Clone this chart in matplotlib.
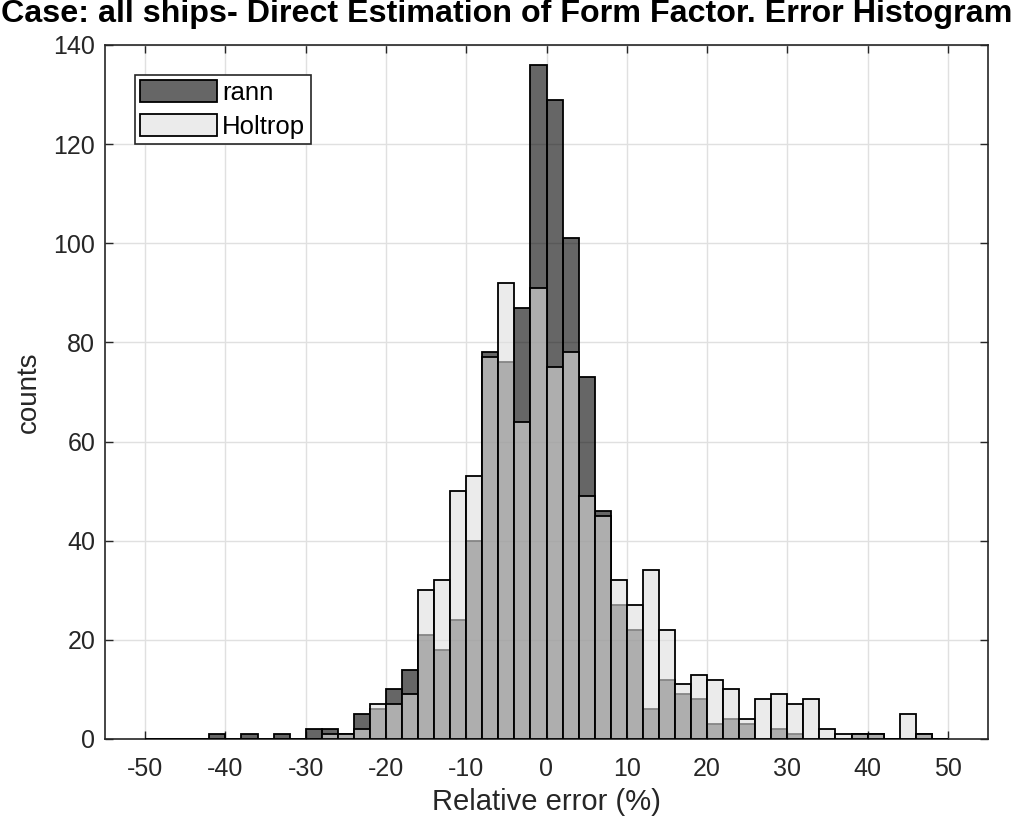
import numpy as np
import matplotlib
matplotlib.use("Agg")
import matplotlib.pyplot as plt

plt.rcParams['font.family'] = ['Liberation Sans', 'DejaVu Sans']
plt.rcParams['axes.unicode_minus'] = False

bin_edges = np.arange(-50, 52, 2)
rann = [0, 0, 0, 0, 1, 0, 1, 0, 1, 0,
        2, 2, 1, 5, 6, 10, 14, 21, 18, 24,
        40, 78, 76, 87, 136, 129, 101, 73, 46, 27,
        22, 6, 12, 9, 8, 3, 4, 3, 0, 2,
        1, 0, 0, 0, 1, 1, 0, 0, 1, 0]
holtrop = [0, 0, 0, 0, 0, 0, 0, 0, 0, 0,
           0, 1, 1, 2, 7, 7, 9, 30, 32, 50,
           53, 77, 92, 64, 91, 75, 78, 49, 45, 32,
           27, 34, 22, 11, 13, 12, 10, 4, 8, 9,
           7, 8, 2, 1, 1, 1, 0, 5, 1, 0]
labels = ['rann', 'Holtrop']
title = 'Case: all ships- Direct Estimation of Form Factor. Error Histogram'
xlabel = 'Relative error (%)'
ylabel = 'counts'
xticks = [-50, -40, -30, -20, -10, 0, 10, 20, 30, 40, 50]
yticks = [0, 20, 40, 60, 80, 100, 120, 140]

W, H = 1016, 824
fig = plt.figure(figsize=(W / 100, H / 100), dpi=100)
ax = fig.add_axes([105 / W, 1 - 739 / H, (988 - 105) / W, (739 - 45) / H])

lefts = bin_edges[:-1]
widths = np.diff(bin_edges)
ax.bar(lefts, rann, width=widths, align='edge', facecolor=(0, 0, 0, 0.6),
       edgecolor='black', linewidth=1.3, label=labels[0], zorder=2)
ax.bar(lefts, holtrop, width=widths, align='edge', facecolor=(0.875, 0.875, 0.875, 0.6),
       edgecolor='black', linewidth=1.3, label=labels[1], zorder=3)

ax.set_xlim(-55, 55)
ax.set_ylim(0, 140)
ax.set_xticks(xticks)
ax.set_yticks(yticks)
ax.grid(True, color='#e0e0e0', linewidth=1.0, zorder=0)
ax.set_axisbelow(True)
ax.tick_params(direction='in', top=True, right=True, length=6, width=1,
               labelsize=18, colors='#262626')
ax.tick_params(axis='x', pad=13)
ax.tick_params(axis='y', pad=7)
for s in ax.spines.values():
    s.set_color('#262626')
    s.set_linewidth(1.2)

ax.set_xlabel(xlabel, fontsize=21, color='#262626', labelpad=5)
ax.set_ylabel(ylabel, fontsize=20, color='#262626', labelpad=8)
fig.text(507 / W, 1 - 14 / H, title, ha='center', va='center',
         fontsize=23.2, fontweight='bold', color='black')

leg = ax.legend(loc='upper left', bbox_to_anchor=(30 / 883, 1 - 30 / 694),
                fontsize=18.5, handlelength=3.0, handleheight=0.95,
                handletextpad=0.2, borderpad=0.2, labelspacing=0.35,
                fancybox=False, framealpha=1, edgecolor='#262626',
                borderaxespad=0)
leg.get_frame().set_linewidth(1.2)

fig.savefig('out.png', dpi=100)
